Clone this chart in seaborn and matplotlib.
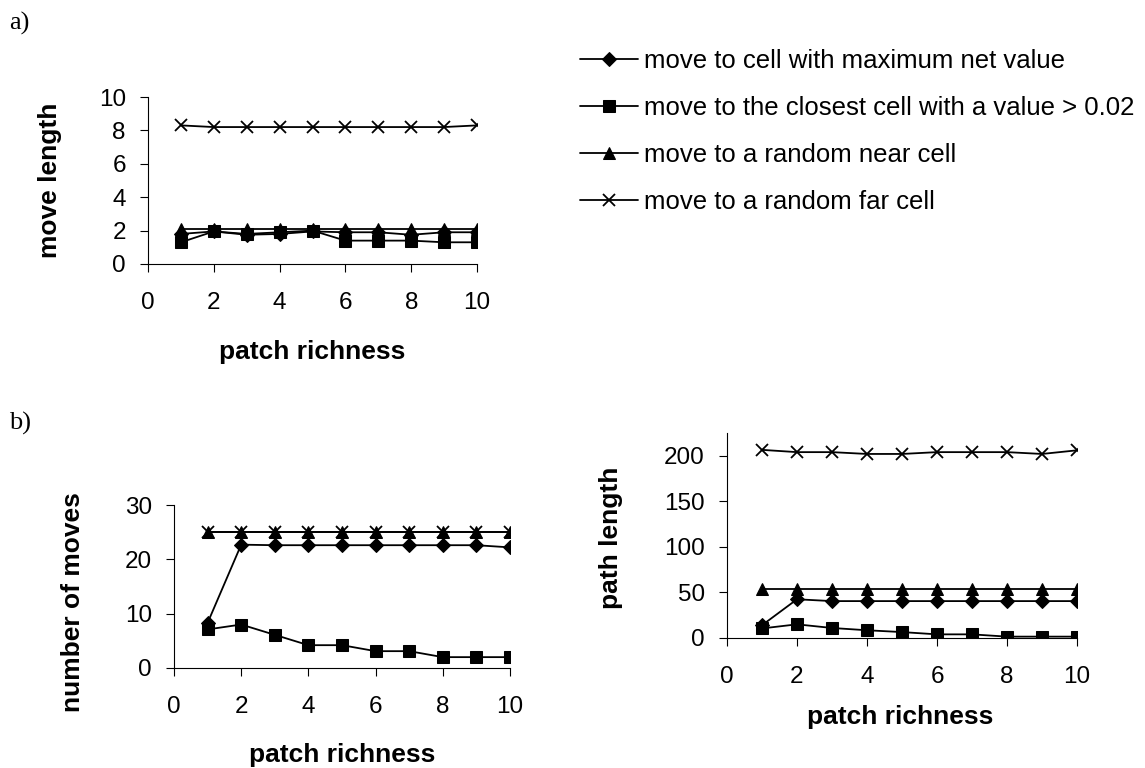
import matplotlib
matplotlib.use("Agg")
import matplotlib.pyplot as plt
import seaborn as sns
import pandas as pd

# ---------------- data ----------------
richness = [1, 2, 3, 4, 5, 6, 7, 8, 9, 10]
strategies = [
    "move to cell with maximum net value",
    "move to the closest cell with a value > 0.02",
    "move to a random near cell",
    "move to a random far cell",
]

# a) move length
move_len_max = [1.8, 1.95, 1.75, 1.8, 1.95, 1.9, 1.9, 1.75, 1.9, 1.9]
move_len_closest = [1.3, 1.95, 1.8, 1.9, 2.0, 1.4, 1.4, 1.4, 1.3, 1.3]
move_len_near = [2.1, 2.1, 2.1, 2.1, 2.1, 2.1, 2.1, 2.1, 2.1, 2.1]
move_len_far = [8.3, 8.2, 8.2, 8.2, 8.2, 8.2, 8.2, 8.2, 8.2, 8.3]

# b) number of moves
n_moves_max = [8.3, 22.7, 22.6, 22.6, 22.6, 22.6, 22.6, 22.6, 22.6, 22.2]
n_moves_closest = [7.1, 8.0, 6.1, 4.2, 4.2, 3.1, 3.1, 2.0, 2.0, 2.0]
n_moves_near = [25, 25, 25, 25, 25, 25, 25, 25, 25, 25]
n_moves_far = [25, 25, 25, 25, 25, 25, 25, 25, 25, 25]

# b) path length
path_len_max = [14, 42.5, 40.5, 40.5, 40.5, 40.5, 40.5, 40.5, 40.5, 40.5]
path_len_closest = [10.5, 15, 11, 8.5, 6.5, 4, 4, 1.5, 1.5, 1.5]
path_len_near = [54, 54, 54, 54, 54, 54, 54, 54, 54, 54]
path_len_far = [206.5, 204, 204, 202, 202, 204, 204, 204, 202, 206]

x_ticks = [0, 2, 4, 6, 8, 10]

# ---------------- style ----------------
sns.set_style("ticks")
plt.rcParams["font.family"] = ["Liberation Sans", "DejaVu Sans"]
plt.rcParams["text.color"] = "black"
plt.rcParams["axes.labelcolor"] = "black"
plt.rcParams["xtick.color"] = "black"
plt.rcParams["ytick.color"] = "black"
plt.rcParams["axes.edgecolor"] = "black"

TICK_FS = 17.5
LABEL_FS = 19
LEGEND_FS = 18.5
marker_styles = [
    dict(marker="D", markersize=7.5, mec="black", mfc="black"),
    dict(marker="s", markersize=8.5, mec="black", mfc="black"),
    dict(marker="^", markersize=9, mec="black", mfc="black"),
    dict(marker="x", markersize=9, mec="black", mew=1.3),
]

fig = plt.figure(figsize=(11.45, 7.68), dpi=100)
W, H = 1145.0, 768.0


def add_axes(left, right, bottom, top):
    return fig.add_axes([left / W, 1 - bottom / H, (right - left) / W, (bottom - top) / H])


def draw(ax, series, ylim, yticks, ylabel, ylabel_xy, xlabel_xy):
    for name, vals, ms in zip(strategies, series, marker_styles):
        df = pd.DataFrame({"patch richness": richness, "value": vals})
        sns.lineplot(data=df, x="patch richness", y="value", ax=ax, color="black",
                     linewidth=1.3, legend=False, label=name, **ms)
    ax.set_xlim(0, 10)
    ax.set_ylim(*ylim)
    ax.set_xticks(x_ticks)
    ax.set_yticks(yticks)
    ax.tick_params(axis="both", labelsize=TICK_FS, direction="out", length=6, width=0.8)
    ax.tick_params(axis="x", pad=14)
    ax.tick_params(axis="y", pad=10)
    ax.set_xlabel("patch richness", fontsize=LABEL_FS, fontweight="bold")
    ax.set_ylabel(ylabel, fontsize=LABEL_FS, fontweight="bold")
    ax.yaxis.set_label_coords(*ylabel_xy)
    ax.xaxis.set_label_coords(*xlabel_xy)
    for s in ["top", "right"]:
        ax.spines[s].set_visible(False)
    for s in ["left", "bottom"]:
        ax.spines[s].set_linewidth(0.8)
    ax.patch.set_alpha(0)


ax_a = add_axes(148, 477, 264, 97)
draw(ax_a, [move_len_max, move_len_closest, move_len_near, move_len_far],
     (0, 10), [0, 2, 4, 6, 8, 10], "move length", (-0.26, 0.5), (0.5, -0.455))

ax_b1 = add_axes(174, 510, 668, 505)
draw(ax_b1, [n_moves_max, n_moves_closest, n_moves_near, n_moves_far],
     (0, 30), [0, 10, 20, 30], "number of moves", (-0.265, 0.405), (0.5, -0.46))

ax_b2 = add_axes(727, 1077, 638, 433)
draw(ax_b2, [path_len_max, path_len_closest, path_len_near, path_len_far],
     (0, 225), [0, 50, 100, 150, 200], "path length", (-0.297, 0.49), (0.495, -0.327))

# panel letters
fig.text(9 / W, 1 - 23 / H, "a)", fontsize=19, family="Liberation Serif", va="center", ha="left")
fig.text(9 / W, 1 - 423 / H, "b)", fontsize=19, family="Liberation Serif", va="center", ha="left")

# legend
handles = ax_a.get_lines()[:4]
fig.legend(handles, strategies, loc="upper left", bbox_to_anchor=(580 / W, 1 - 49 / H),
           frameon=False, fontsize=LEGEND_FS, handlelength=2.25, handletextpad=0.25,
           labelspacing=0.9, borderaxespad=0, borderpad=0)

fig.savefig("out.png", dpi=100)
